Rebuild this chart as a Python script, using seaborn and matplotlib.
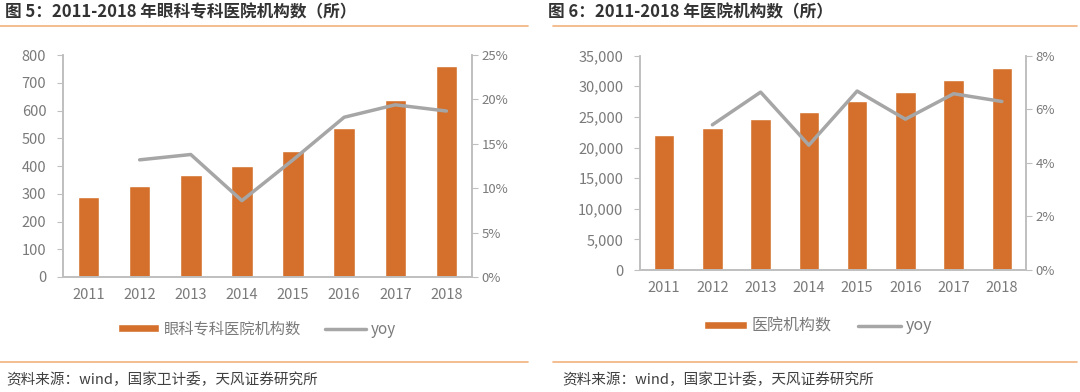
import numpy as np
import matplotlib
matplotlib.use("Agg")
import matplotlib.pyplot as plt
import seaborn as sns
from matplotlib.ticker import FuncFormatter, MultipleLocator
from matplotlib.patches import Patch
from matplotlib.lines import Line2D

# data
years = ["2011", "2012", "2013", "2014", "2015", "2016", "2017", "2018"]
eye_hosp = [289, 327, 368, 401, 454, 536, 639, 761]
eye_yoy = [np.nan, 0.132, 0.138, 0.086, 0.132, 0.180, 0.194, 0.187]
all_hosp = [21979, 23170, 24709, 25860, 27587, 29140, 31056, 33009]
all_yoy = [np.nan, 0.0542, 0.0664, 0.0466, 0.0668, 0.0563, 0.0658, 0.0629]

title_left = "图 5：2011-2018 年眼科专科医院机构数（所）"
title_right = "图 6：2011-2018 年医院机构数（所）"
source = "资料来源：wind，国家卫计委，天风证券研究所"

sns.set_style("white")
plt.rcParams["font.family"] = ["Noto Sans CJK SC", "DejaVu Sans"]

BAR = "#D4702C"
LINE = "#A6A6A6"
SPINE = "#BFBFBF"
TXT = "#7A7A7A"
RULE = "#F2B27C"

fig = plt.figure(figsize=(10.8, 3.92), dpi=100)


def panel(rect, values, yoy, ymax, ystep, y2max, y2step, fmt_left, fmt_right):
    ax = fig.add_axes(rect)
    sns.barplot(x=years, y=values, color=BAR, width=0.42, saturation=1, ax=ax)
    ax.set_ylim(0, ymax)
    ax.yaxis.set_major_locator(MultipleLocator(ystep))
    ax.yaxis.set_major_formatter(FuncFormatter(fmt_left))
    ax2 = ax.twinx()
    pos = np.arange(len(years))
    mask = ~np.isnan(yoy)
    sns.lineplot(x=pos[mask], y=np.array(yoy)[mask], color=LINE, linewidth=2.5, ax=ax2)
    ax2.set_ylim(0, y2max)
    ax2.yaxis.set_major_locator(MultipleLocator(y2step))
    ax2.yaxis.set_major_formatter(FuncFormatter(fmt_right))
    ax.set_xlim(-0.5, len(years) - 0.5)
    for a in (ax, ax2):
        for s in a.spines.values():
            s.set_color(SPINE)
            s.set_linewidth(1.2)
        a.spines["top"].set_visible(False)
        a.tick_params(colors=TXT, labelsize=10.5, length=0)
    ax.tick_params(axis="y", length=4, color=SPINE, pad=8)
    ax2.tick_params(axis="y", length=4, color=SPINE, pad=3, labelsize=9.5)
    ax.tick_params(axis="x", pad=8)
    ax.set_xlabel("")
    ax.set_ylabel("")
    ax2.set_ylabel("")
    handles = [Patch(facecolor=BAR), Line2D([0], [0], color=LINE, lw=2.5)]
    return ax, handles


axL, hL = panel([0.0583, 0.2934, 0.3787, 0.566], eye_hosp, eye_yoy, 800, 100, 0.25, 0.05,
                lambda v, p: f"{v:.0f}", lambda v, p: f"{v*100:.0f}%")
axR, hR = panel([0.5926, 0.311, 0.3574, 0.547], all_hosp, all_yoy, 35000, 5000, 0.08, 0.02,
                lambda v, p: f"{v:,.0f}", lambda v, p: f"{v*100:.0f}%")

leg_kw = dict(loc="center", ncol=2, frameon=False, handlelength=2.7, handleheight=0.45,
              columnspacing=1.6, handletextpad=0.3, labelcolor=TXT)
fig.legend(hL, ["眼科专科医院机构数", "yoy"], bbox_to_anchor=(257 / 1080, 1 - 329 / 392),
           fontsize=11, **leg_kw)
fig.legend(hR, ["医院机构数", "yoy"], bbox_to_anchor=(818 / 1080, 1 - 326 / 392),
           fontsize=11.5, **leg_kw)

# titles, rules and source notes
fig.text(5 / 1080, 1 - 12 / 392, title_left, fontsize=12, fontweight="bold", color="#333333", va="center")
fig.text(548 / 1080, 1 - 12 / 392, title_right, fontsize=12, fontweight="bold", color="#333333", va="center")
for x0, x1 in [(0, 528), (553, 1077)]:
    for yy in (26, 362):
        fig.add_artist(Line2D([x0 / 1080, x1 / 1080], [1 - yy / 392] * 2, color=RULE, lw=1.2))
fig.text(6 / 1080, 1 - 380 / 392, source, fontsize=10.5, color="#404040", va="center")
fig.text(562 / 1080, 1 - 380 / 392, source, fontsize=10.5, color="#404040", va="center")

fig.savefig("out.png", dpi=100)
